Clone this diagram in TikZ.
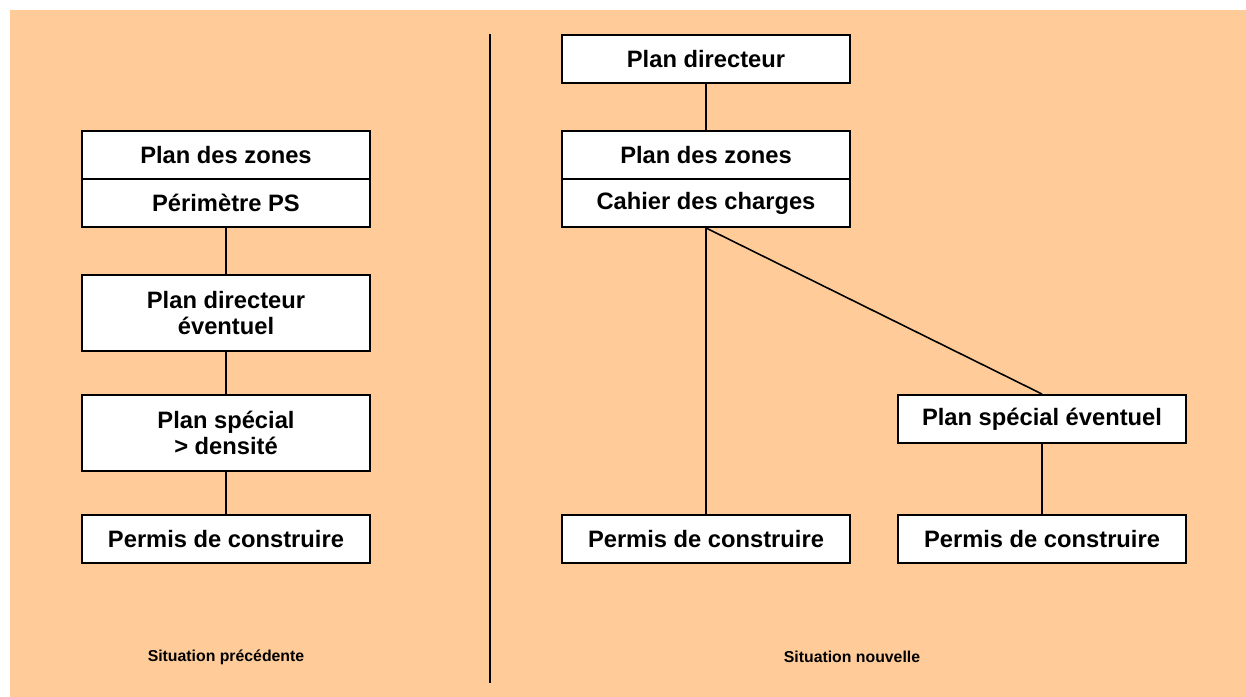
\documentclass[tikz,border=0pt]{standalone}
\usepackage{fontspec}
\usepackage{xcolor}
\setmainfont{Liberation Sans}
\definecolor{fondpeche}{HTML}{FFCC99}

\begin{document}
\begin{tikzpicture}[
    x=0.2mm, y=-0.2mm,
    % Definimos el estilo de las cajas para no repetir código
    case/.style={rectangle, draw, fill=white, line width=1.1pt, minimum width=5.76cm,
      minimum height=0.96cm, inner sep=0pt, align=center,
      font=\fontsize{13.5}{15.2}\selectfont\bfseries},
    case2/.style={case, minimum height=1.52cm},
    lien/.style={line width=0.9pt},
    titre/.style={font=\fontsize{9}{11}\selectfont\bfseries}
  ]

  % Fondo
  \useasboundingbox (0,0) rectangle (1246,697);
  \fill[fondpeche] (10,10) rectangle (1246,697);

  % 1. Columna izquierda (situation précédente)
  \node[case] (zonesG) at (226,155) {Plan des zones};
  \node[case] (perimetre) at (226,203) {Périmètre PS};
  \node[case2] (directeurG) at (226,313) {Plan directeur\\éventuel};
  \node[case2] (specialG) at (226,433) {Plan spécial\\> densité};
  \node[case] (permisG) at (226,539) {Permis de construire};

  % 2. Columna derecha (situation nouvelle)
  \node[case] (directeurD) at (706,59) {Plan directeur};
  \node[case] (zonesD) at (706,155) {Plan des zones};
  \node[case] (cahier) at (706,203) {Cahier des charges};
  \node[case] (specialD) at (1042,419) {Plan spécial éventuel};
  \node[case] (permisD) at (706,539) {Permis de construire};
  \node[case] (permisE) at (1042,539) {Permis de construire};

  % 3. Separador y títulos
  \coordinate (sepH) at (490,34);
  \coordinate (sepB) at (490,683);
  \draw[line width=1.2pt] (sepH) -- (sepB);
  \node[titre] (sitG) at (226,657) {Situation précédente};
  \node[titre] (sitD) at (852,657) {Situation nouvelle};

  % 4. Conexiones izquierda
  \draw[lien] (perimetre) -- (directeurG);
  \draw[lien] (directeurG) -- (specialG);
  \draw[lien] (specialG) -- (permisG);

  % Conexiones derecha
  \draw[lien] (directeurD) -- (zonesD);
  \draw[lien] (cahier.south) -- (permisD.north);
  \draw[lien] (cahier.south) -- (specialD.north);
  \draw[lien] (specialD) -- (permisE);

\end{tikzpicture}
\end{document}
